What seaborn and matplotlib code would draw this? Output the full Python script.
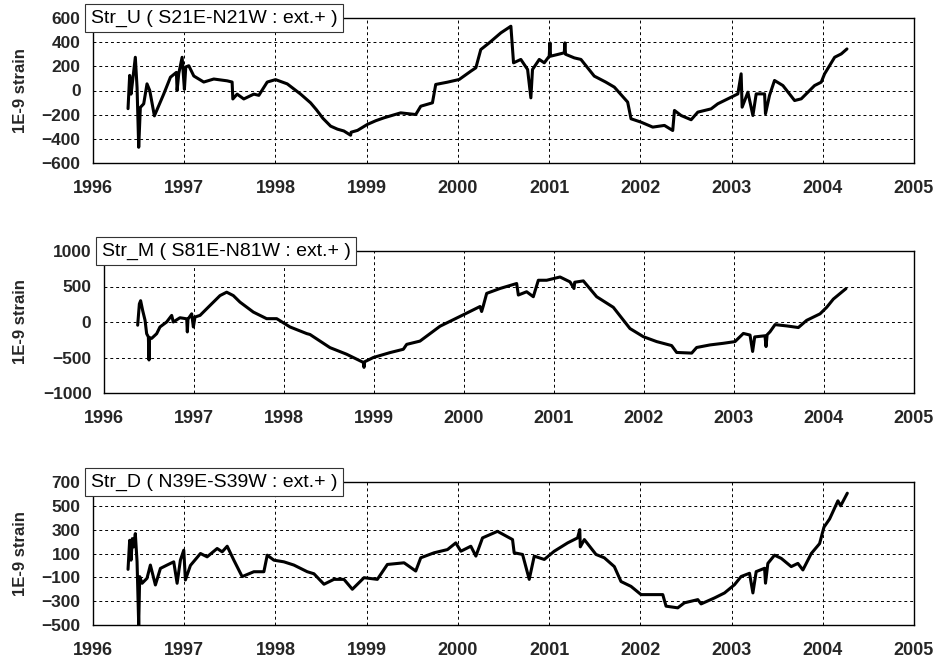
import matplotlib
matplotlib.use("Agg")
import matplotlib.pyplot as plt
import pandas as pd
import seaborn as sns

# ---- Str_U ----
u_year = [1996.384, 1996.402, 1996.417, 1996.435, 1996.464, 1996.483, 1996.501, 1996.519,
          1996.556, 1996.592, 1996.622, 1996.673, 1996.775, 1996.849, 1996.914, 1996.922,
          1996.940, 1996.977, 1997.002, 1997.017, 1997.050, 1997.105, 1997.214, 1997.324,
          1997.471, 1997.525, 1997.533, 1997.580, 1997.653, 1997.763, 1997.818, 1997.910,
          1998.001, 1998.129, 1998.276, 1998.385, 1998.450, 1998.520, 1998.605, 1998.680,
          1998.750, 1998.824, 1998.830, 1998.900, 1999.007, 1999.100, 1999.190,
          1999.373, 1999.538, 1999.593, 1999.721, 1999.757, 1999.886, 2000.014, 2000.142,
          2000.197, 2000.251, 2000.343, 2000.471, 2000.581, 2000.610, 2000.690, 2000.764,
          2000.800, 2000.818, 2000.892, 2000.947, 2001.001, 2001.009, 2001.016, 2001.093,
          2001.166, 2001.173, 2001.180, 2001.276, 2001.349, 2001.495, 2001.620, 2001.715,
          2001.861, 2001.898, 2002.008, 2002.136, 2002.264, 2002.355, 2002.374, 2002.447,
          2002.557, 2002.630, 2002.776, 2002.849, 2002.959, 2003.069, 2003.105, 2003.116,
          2003.179, 2003.234, 2003.270, 2003.362, 2003.372, 2003.416, 2003.471, 2003.563,
          2003.691, 2003.764, 2003.910, 2003.983, 2004.020, 2004.130, 2004.203, 2004.265]
u_strain = [-150, 125, -30, 85, 275, 25, -470, -140,
            -110, 55, 0, -210, -30, 110, 150, 0,
            140, 275, 10, 195, 205, 120, 70, 95,
            80, 70, -70, -30, -70, -30, -40, 70,
            90, 55, -30, -102, -160, -230, -295, -320,
            -335, -370, -345, -330, -281, -250, -226,
            -185, -199, -130, -102, 50, 69, 91, 160,
            188, 339, 394, 477, 532, 229, 257, 174,
            -61, 174, 257, 229, 284, 394, 284, 298,
            312, 394, 300, 270, 257, 119, 70, 28,
            -96, -234, -262, -303, -289, -331, -165, -207,
            -242, -179, -152, -110, -69, -28, 138, -138,
            -14, -207, -28, -28, -193, -41, 83, 41,
            -83, -69, 41, 69, 138, 275, 303, 344]

# ---- Str_M ----
m_year = [1996.374, 1996.393, 1996.407, 1996.430, 1996.456, 1996.474, 1996.493, 1996.500,
          1996.507, 1996.530, 1996.585, 1996.622, 1996.696, 1996.752, 1996.770, 1996.844,
          1996.919, 1996.926, 1996.933, 1996.974, 1996.993, 1997.011, 1997.067, 1997.178,
          1997.289, 1997.363, 1997.437, 1997.511, 1997.659, 1997.807, 1997.919, 1998.067,
          1998.252, 1998.289, 1998.511, 1998.696, 1998.881, 1998.889, 1998.896, 1998.993,
          1999.178, 1999.326, 1999.363, 1999.511, 1999.733, 1999.993, 2000.178, 2000.196,
          2000.215, 2000.252, 2000.400, 2000.585, 2000.604, 2000.696, 2000.770, 2000.826,
          2000.919, 2001.067, 2001.178, 2001.222, 2001.230, 2001.326, 2001.474, 2001.659,
          2001.844, 2001.993, 2002.141, 2002.307, 2002.363, 2002.530, 2002.585, 2002.733,
          2002.881, 2003.011, 2003.104, 2003.178, 2003.207, 2003.230, 2003.252, 2003.344,
          2003.356, 2003.368, 2003.400, 2003.456, 2003.585, 2003.715, 2003.807, 2003.956,
          2004.030, 2004.104, 2004.244]
m_strain = [-45, 255, 300, 160, 25, -165, -210, -535,
            -220, -230, -165, -70, 0, 93, 0, 60,
            45, -140, 40, 115, -70, 70, 93, 233,
            372, 420, 372, 280, 140, 47, 47, -70,
            -163, -176, -361, -454, -569, -639, -560, -500,
            -431, -384, -315, -269, -60, 102, 218, 148,
            230, 403, 472, 542, 380, 426, 356, 588,
            588, 634, 565, 472, 560, 579, 356, 207,
            -92, -207, -276, -332, -429, -438, -359, -323,
            -300, -276, -161, -184, -415, -210, -207, -194,
            -346, -180, -138, -37, -55, -78, 23, 115,
            207, 323, 470]

# ---- Str_D ----
d_year = [1996.384, 1996.402, 1996.417, 1996.431, 1996.446, 1996.464, 1996.483, 1996.501,
          1996.512, 1996.538, 1996.592, 1996.629, 1996.684, 1996.739, 1996.812, 1996.885,
          1996.922, 1996.958, 1996.995, 1997.013, 1997.068, 1997.178, 1997.251, 1997.361,
          1997.416, 1997.471, 1997.544, 1997.635, 1997.763, 1997.873, 1997.910, 1997.983,
          1998.093, 1998.202, 1998.349, 1998.422, 1998.532, 1998.641, 1998.751, 1998.843,
          1998.971, 1999.117, 1999.227, 1999.410, 1999.538, 1999.593, 1999.739, 1999.886,
          1999.977, 2000.032, 2000.142, 2000.197, 2000.270, 2000.434, 2000.599, 2000.617,
          2000.709, 2000.782, 2000.837, 2000.947, 2001.056, 2001.203, 2001.312, 2001.336,
          2001.342, 2001.386, 2001.514, 2001.605, 2001.715, 2001.788, 2001.898, 2002.008,
          2002.246, 2002.282, 2002.410, 2002.483, 2002.630, 2002.666, 2002.813, 2002.923,
          2003.032, 2003.105, 2003.197, 2003.234, 2003.270, 2003.362, 2003.372, 2003.398,
          2003.471, 2003.545, 2003.654, 2003.727, 2003.782, 2003.874, 2003.965, 2004.013,
          2004.075, 2004.166, 2004.196, 2004.269]
d_strain = [-33, 211, 44, 225, 155, 267, 30, -500,
            -94, -150, -108, 3, -164, -25, 3, 30,
            -150, 44, 128, -122, 0, 100, 72, 142,
            114, 161, 44, -94, -53, -53, 86, 44,
            30, 3, -53, -70, -158, -117, -117, -200,
            -103, -117, 8, 22, -47, 64, 106, 133,
            189, 119, 161, 78, 231, 286, 217, 106,
            92, -117, 78, 50, 119, 189, 231, 300,
            156, 217, 92, 64, -10, -135, -176, -245,
            -245, -342, -356, -314, -287, -323, -273, -231,
            -162, -93, -66, -231, -52, -24, -149, 17,
            86, 59, -10, 17, -38, 100, 183, 321,
            390, 542, 500, 606]

titles = ["Str_U ( S21E-N21W : ext.+ )",
          "Str_M ( S81E-N81W : ext.+ )",
          "Str_D ( N39E-S39W : ext.+ )"]
u_ticks = [-600, -400, -200, 0, 200, 400, 600]
m_ticks = [-1000, -500, 0, 500, 1000]
d_ticks = [-500, -300, -100, 100, 300, 500, 700]
year_ticks = list(range(1996, 2006))
y_label = "1E-9 strain"

sns.set_theme(style="white")
plt.rcParams["font.family"] = ["Liberation Sans", "DejaVu Sans"]

W, H = 939, 667
fig = plt.figure(figsize=(W / 100, H / 100), dpi=100)

# axes boxes in pixels: left, top, right, bottom
boxes = [(93, 18, 914, 163), (104, 251, 914, 393), (93, 482, 914, 625)]
series = [(u_year, u_strain, u_ticks), (m_year, m_strain, m_ticks), (d_year, d_strain, d_ticks)]

for (l, t, r, b), (yr, val, ticks), title in zip(boxes, series, titles):
    ax = fig.add_axes([l / W, 1 - b / H, (r - l) / W, (b - t) / H])
    df = pd.DataFrame({"year": yr, "strain": val})
    sns.lineplot(data=df, x="year", y="strain", ax=ax, color="black", linewidth=2.2,
                 sort=False, estimator=None)
    ax.set_xlim(1996, 2005)
    ax.set_ylim(ticks[0], ticks[-1])
    ax.set_xticks(year_ticks)
    ax.set_yticks(ticks)
    ax.grid(True, which="major", color="black", linewidth=0.7, linestyle=(0, (3, 3)))
    for s in ax.spines.values():
        s.set_color("black")
        s.set_linewidth(1.0)
    ax.tick_params(axis="x", length=0, pad=12, labelsize=13)
    ax.tick_params(axis="y", length=0, pad=9, labelsize=12.5)
    for lab in ax.get_xticklabels() + ax.get_yticklabels():
        lab.set_fontweight("bold")
    ax.set_xlabel("")
    ax.set_ylabel(y_label, fontsize=12, fontweight="bold")
    ax.yaxis.set_label_coords((28 - l) / (r - l), 0.5)
    ax.text(-0.003, 1.0, title, transform=ax.transAxes, ha="left", va="center",
            fontsize=14, color="black", zorder=10, clip_on=False,
            bbox=dict(boxstyle="square,pad=0.3", facecolor="white", edgecolor="#333333",
                      linewidth=0.8))

fig.savefig("out.png", dpi=100)
